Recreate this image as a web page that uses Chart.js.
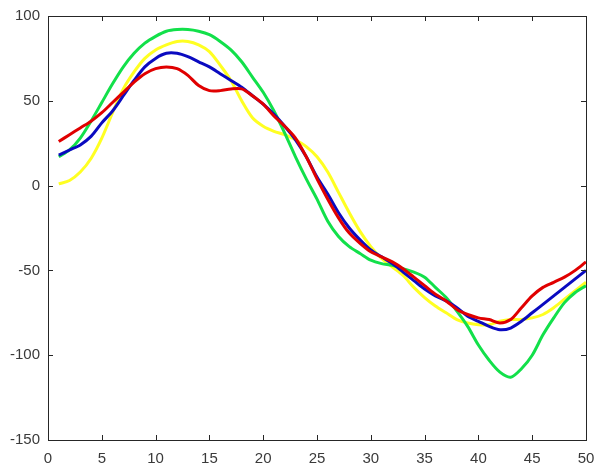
<!DOCTYPE html>
<html>
<head>
<meta charset="utf-8">
<script src="https://cdn.jsdelivr.net/npm/chart.js@4"></script>
<style>
  html, body { margin: 0; padding: 0; background: #fff; }
  canvas { display: block; }
</style>
</head>
<body>
<canvas id="chart" width="597" height="468"></canvas>
<script>
const xs = [1, 2, 3, 4, 5, 6, 7, 8, 9, 10, 11, 12, 13, 14, 15, 16, 17, 18, 19, 20,
  21, 22, 23, 24, 25, 26, 27, 28, 29, 30, 31, 32, 33, 34, 35, 36, 37, 38, 39, 40,
  41, 42, 43, 44, 45, 46, 47, 48, 49, 50]

const yellow = [1, 3, 8, 16, 28, 43, 57, 67, 75, 80, 83, 85, 85, 83, 79, 71, 62, 50, 40, 35,
  32, 30, 27, 23, 17, 8, -4, -16, -27, -36, -43, -48, -53, -60, -66, -71, -75, -79, -81, -82,
  -82, -80, -79, -79, -78, -76, -72, -67, -62, -57]

const green = [17, 21, 28, 38, 49, 60, 70, 78, 84, 88, 91, 92, 92, 91, 89, 85, 80, 73, 64, 55,
  44, 31, 17, 4, -8, -21, -30, -36, -40, -44, -46, -47, -49, -51, -54, -60, -66, -74, -83, -94,
  -103, -110, -113, -108, -100, -88, -78, -69, -63, -59]

const blue = [18, 21, 24, 29, 37, 44, 53, 62, 70, 75, 78, 78, 76, 73, 70, 66, 62, 58, 53, 48,
  42, 35, 27, 17, 5, -5, -16, -25, -32, -38, -42, -46, -51, -56, -61, -65, -68, -72, -77, -80,
  -83, -85, -84, -80, -75, -70, -65, -60, -55, -50]

const red = [26, 30, 34, 38, 43, 49, 55, 61, 66, 69, 70, 69, 65, 59, 56, 56, 57, 57, 53, 48,
  41, 35, 28, 17, 4, -8, -19, -28, -34, -39, -42, -45, -49, -54, -59, -64, -68, -73, -76, -78,
  -79, -81, -79, -72, -65, -60, -57, -54, -50, -45]

const xTicks = [0, 5, 10, 15, 20, 25, 30, 35, 40, 45, 50]
const yTicks = [-150, -100, -50, 0, 50, 100]

function points(ys) {
  return xs.map((x, i) => ({ x: x, y: ys[i] }))
}

function series(label, ys, color, order) {
  return {
    label,
    data: points(ys),
    borderColor: color,
    backgroundColor: color,
    borderWidth: 3,
    pointRadius: 0,
    tension: 0.3,
    fill: false,
    order
  }
}

// matlab style box with inward ticks on all four sides
const boxPlugin = {
  id: 'box',
  afterDraw(chart) {
    const ctx = chart.ctx
    const a = chart.chartArea
    const sx = chart.scales.x
    const sy = chart.scales.y
    const len = 5
    ctx.save()
    ctx.strokeStyle = '#262626'
    ctx.lineWidth = 1
    ctx.strokeRect(Math.round(a.left) + 0.5, Math.round(a.top) + 0.5,
      Math.round(a.right - a.left), Math.round(a.bottom - a.top))
    ctx.beginPath()
    xTicks.forEach(v => {
      const px = Math.round(sx.getPixelForValue(v)) + 0.5
      ctx.moveTo(px, a.bottom)
      ctx.lineTo(px, a.bottom - len)
      ctx.moveTo(px, a.top)
      ctx.lineTo(px, a.top + len)
    })
    yTicks.forEach(v => {
      const py = Math.round(sy.getPixelForValue(v)) + 0.5
      ctx.moveTo(a.left, py)
      ctx.lineTo(a.left + len, py)
      ctx.moveTo(a.right, py)
      ctx.lineTo(a.right - len, py)
    })
    ctx.stroke()
    ctx.restore()
  }
}

const tickFont = { family: '"Liberation Sans", Arial, sans-serif', size: 15 }

new Chart(document.getElementById('chart'), {
  type: 'line',
  data: {
    datasets: [
      series('red', red, '#e00000', 1),
      series('blue', blue, '#0a0ac0', 2),
      series('green', green, '#12e04a', 3),
      series('yellow', yellow, '#ffff22', 4)
    ]
  },
  options: {
    responsive: false,
    animation: false,
    layout: { padding: { top: 16, right: 11, left: 0, bottom: 0 } },
    plugins: {
      legend: { display: false },
      tooltip: { enabled: false }
    },
    scales: {
      x: {
        type: 'linear',
        min: 0,
        max: 50,
        afterBuildTicks(scale) {
          scale.ticks = xTicks.map(v => ({ value: v }))
        },
        afterFit(scale) {
          scale.height = 28
          scale.paddingLeft = 0
          scale.paddingRight = 0
        },
        grid: { display: false, drawTicks: false },
        border: { display: false },
        ticks: { color: '#3a3a3a', font: tickFont, padding: 10, maxRotation: 0 }
      },
      y: {
        type: 'linear',
        min: -150,
        max: 100,
        afterBuildTicks(scale) {
          scale.ticks = yTicks.map(v => ({ value: v }))
        },
        afterFit(scale) {
          scale.width = 48
          scale.paddingTop = 0
          scale.paddingBottom = 0
        },
        grid: { display: false, drawTicks: false },
        border: { display: false },
        ticks: { color: '#3a3a3a', font: tickFont, padding: 8 }
      }
    }
  },
  plugins: [boxPlugin]
})
</script>
</body>
</html>
